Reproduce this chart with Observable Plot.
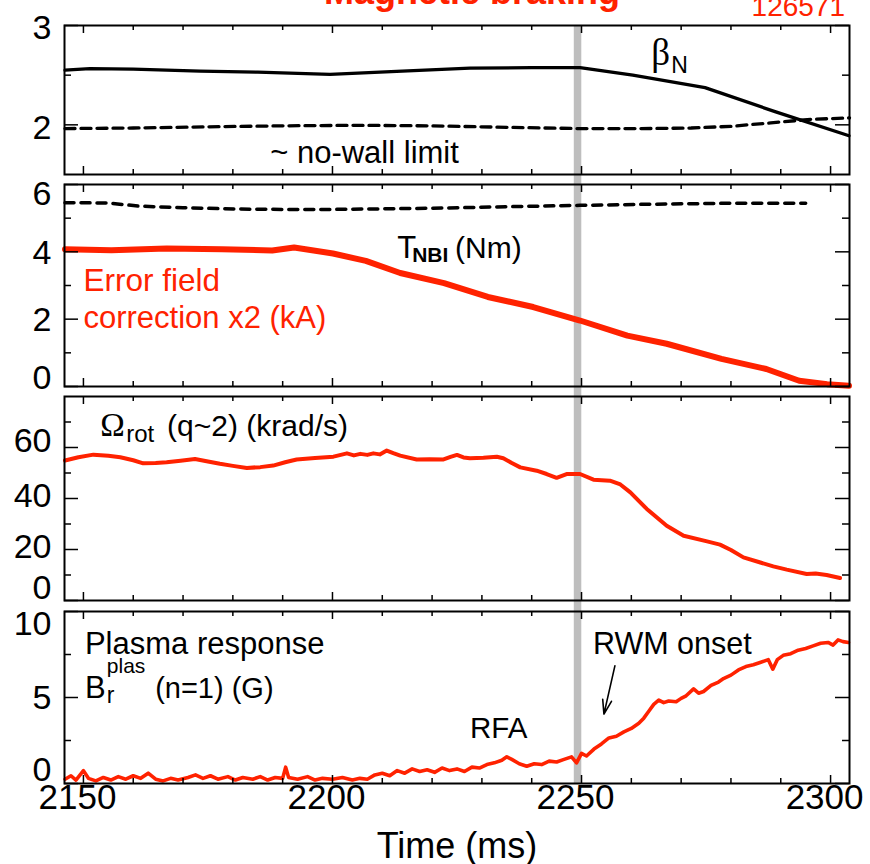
<!DOCTYPE html>
<html><head><meta charset="utf-8">
<script src="https://cdn.jsdelivr.net/npm/d3@7"></script>
<script src="https://cdn.jsdelivr.net/npm/@observablehq/plot@0.6"></script>
<style>
html,body{margin:0;padding:0;background:#fff;}
#chart{width:870px;height:864px;overflow:hidden;position:relative;}
#chart svg{display:block;overflow:visible;}
</style></head><body><div id="chart"></div>
<script>
// ---------------- data ----------------
const onsetTime = 2249.2;
const xMajorTicks = [2150, 2200, 2250, 2300];
const xMinorTicks = [2160, 2170, 2180, 2190, 2210, 2220, 2230, 2240, 2260, 2270, 2280, 2290];

const betaTime = [2146.3, 2151.3, 2160, 2173.4, 2185, 2199.5, 2214, 2227.6, 2240, 2249.7, 2260.3, 2274.8, 2289, 2303.7];
const betaN    = [2.55, 2.565, 2.56, 2.54, 2.53, 2.507, 2.54, 2.57, 2.575, 2.575, 2.50, 2.375, 2.13, 1.89];

const noWallTime = [2146.3, 2160, 2175, 2190, 2205, 2220, 2235, 2249.7, 2262, 2272, 2280, 2288, 2296, 2303.8];
const noWall     = [1.962, 1.968, 1.98, 1.99, 1.995, 1.99, 1.975, 1.962, 1.962, 1.968, 1.985, 2.02, 2.055, 2.07];

const tnbiTime = [2146.3, 2155, 2161, 2170, 2181, 2190, 2200, 2212, 2222, 2235, 2249.7, 2262, 2278, 2287, 2295];
const tnbi     = [5.46, 5.45, 5.36, 5.31, 5.27, 5.26, 5.26, 5.28, 5.30, 5.34, 5.38, 5.41, 5.44, 5.44, 5.44];

const efcTime = [2146.3, 2155.6, 2166.7, 2177.8, 2187.9, 2192.3, 2200.1, 2206.7, 2213.6, 2222.4, 2231.2, 2240.3, 2249.7, 2259.2, 2267.1, 2278.1, 2287.1, 2293.7, 2299.3, 2303.7];
const efc     = [4.08, 4.05, 4.10, 4.08, 4.04, 4.13, 3.95, 3.73, 3.37, 3.07, 2.66, 2.36, 1.96, 1.51, 1.27, 0.82, 0.52, 0.17, 0.07, 0.02];

const rotTime = [2146.3, 2149, 2152, 2155, 2157.4, 2160, 2162, 2164.5, 2166.7, 2169.5, 2172.4, 2175, 2177.4, 2180, 2182.8, 2185.5, 2188.1, 2190.5, 2192.8, 2196.5, 2200.2, 2202.9, 2204.3, 2205.6, 2207, 2208.2, 2209.5, 2210.9, 2212.2, 2213.6, 2216.9, 2219.5, 2222.3, 2223.7, 2225, 2226.3, 2227.6, 2230.3, 2233, 2234.3, 2236, 2237.7, 2241, 2243, 2245, 2247, 2249.7, 2252.4, 2255.7, 2257.8, 2259.8, 2263.1, 2267.1, 2270.5, 2275.2, 2277.8, 2280, 2282.5, 2285.9, 2288.5, 2291.2, 2295.2, 2297, 2299.2, 2301.9];
const rotation = [54.9, 56.2, 57.2, 56.8, 56.2, 55.0, 53.8, 53.9, 54.2, 54.8, 55.5, 54.5, 53.6, 52.8, 52.0, 52.3, 52.9, 54.2, 55.3, 55.9, 56.4, 57.7, 56.9, 57.5, 57.1, 57.7, 57.3, 58.8, 57.8, 56.8, 55.3, 55.4, 55.3, 56.3, 57.1, 56.1, 55.8, 56.0, 56.4, 55.8, 53.9, 52.2, 50.9, 49.6, 48.1, 49.6, 49.6, 47.4, 47.0, 45.5, 42.4, 35.9, 29.3, 25.4, 23.2, 21.9, 19.8, 16.9, 14.9, 13.4, 12.1, 10.4, 10.6, 10.0, 8.8];

const brTime = [2146.3,2147.5,2148.5,2150,2151,2152.5,2154,2155.5,2157,2158.5,2160,2161.5,2163,2164.5,2166,2167.5,2169,2171,2172.5,2174,2175.5,2177,2179,2180.5,2182,2184,2185.5,2187,2188.5,2190,2190.6,2191.2,2193,2195,2196.5,2198,2200,2202,2204,2205.5,2207,2208.5,2210,2211.5,2213,2214.5,2216,2217.5,2219,2220.5,2222,2223.5,2225,2226.5,2228,2229.5,2231,2232.5,2234,2235,2236,2237.5,2239,2240.5,2242,2243.5,2245,2246.5,2248,2249,2250,2251,2252.5,2254,2255.5,2257,2258.5,2260,2261.5,2262.5,2263.5,2264.5,2265.5,2266.5,2267.5,2269,2270,2271,2272.5,2273.5,2274.5,2276,2277.5,2278.5,2280,2281.5,2283,2284.5,2286,2287.5,2288.4,2289.3,2290.5,2292,2293.5,2295,2296.5,2298,2299.5,2300.5,2301.5,2302.5,2303.6];
const brPlas = [0.25,0.45,0.2,0.75,0.3,0.15,0.35,0.2,0.4,0.25,0.45,0.3,0.6,0.25,0.15,0.3,0.2,0.35,0.5,0.3,0.45,0.25,0.4,0.2,0.35,0.25,0.4,0.2,0.35,0.3,0.95,0.35,0.25,0.4,0.2,0.3,0.25,0.35,0.2,0.3,0.25,0.5,0.6,0.45,0.75,0.6,0.85,0.7,0.8,0.65,0.9,0.75,0.85,0.7,0.95,0.9,1.1,1.2,1.35,1.55,1.4,1.15,1.0,1.15,1.1,1.3,1.25,1.4,1.55,1.2,1.75,1.6,2.0,2.3,2.65,2.75,3.0,3.2,3.5,3.8,4.2,4.6,4.85,4.7,4.8,4.75,4.95,5.1,5.5,5.25,5.35,5.7,5.9,6.1,6.3,6.6,6.8,6.9,7.05,7.2,6.65,7.2,7.45,7.55,7.75,7.85,8.0,8.15,8.2,8.05,8.35,8.25,8.2];

// tick values per panel
const p1Major = [2, 3], p1Minor = [2.5];
const p2Major = [0, 2, 4, 6], p2Minor = [1, 3, 5];
const p3Major = [0, 20, 40, 60], p3Minor = [10, 30, 50, 70];
const p4Major = [0, 5, 10], p4Minor = [2.5, 7.5];

// ---------------- styling helpers ----------------
const W = 870, ML = 64, MR = 21, FW = W - ML - MR;
const XD = [2146.2, 2303.8];
const RED = "#ff2200", GRAY = "#bebebe";
const SANS = `"Liberation Sans", Arial, Helvetica, sans-serif`;
const SERIF = `"Liberation Serif", "Times New Roman", serif`;

function hasFont(name) {
  const ctx = document.createElement("canvas").getContext("2d");
  const s = "2150 Time (ms) wWmMiIl";
  ctx.font = "40px monospace"; const a = ctx.measureText(s).width;
  ctx.font = `40px "${name}", monospace`; const b = ctx.measureText(s).width;
  return Math.abs(a - b) > 0.5;
}
const narrow = ["Liberation Sans Narrow", "Arial Narrow"].find(hasFont);
const TICK_FONT = narrow ? `"${narrow}"` : SANS;
const TICK_SIZE = 34;
const CONDENSE = narrow ? 1 : 0.82;

const zip = (t, v) => t.map((d, i) => ({t: d, v: v[i]})).filter(d => d.v !== undefined);

function frameMarks(fh, yMajor, yMinor, bandTop, bandBottom) {
  return {
    band: Plot.ruleX([onsetTime], {x: d => d, stroke: GRAY, strokeWidth: 7.5, insetTop: bandTop, insetBottom: bandBottom}),
    ticks: [
      Plot.tickX(xMajorTicks, {x: d => d, insetBottom: fh - 8, strokeWidth: 1.5}),
      Plot.tickX(xMajorTicks, {x: d => d, insetTop: fh - 8, strokeWidth: 1.5}),
      Plot.tickX(xMinorTicks, {x: d => d, insetBottom: fh - 5, strokeWidth: 1.5}),
      Plot.tickX(xMinorTicks, {x: d => d, insetTop: fh - 5, strokeWidth: 1.5}),
      Plot.tickY(yMajor, {y: d => d, insetRight: FW - 14, strokeWidth: 1.5}),
      Plot.tickY(yMajor, {y: d => d, insetLeft: FW - 14, strokeWidth: 1.5}),
      Plot.tickY(yMinor, {y: d => d, insetRight: FW - 7, strokeWidth: 1.5}),
      Plot.tickY(yMinor, {y: d => d, insetLeft: FW - 7, strokeWidth: 1.5}),
      Plot.frame({stroke: "black", strokeWidth: 2})
    ]
  };
}
function yLabels(vals, dy) {
  return Plot.text(vals, {y: d => d, text: d => String(d), frameAnchor: "left", textAnchor: "end",
    dx: -13, dy, fontSize: TICK_SIZE, fontFamily: TICK_FONT, fill: "black", ariaLabel: "condensed"});
}
function note(t, v, s, opts = {}) {
  return Plot.text([{t, v, s}], {x: "t", y: "v", text: "s", textAnchor: "start", lineAnchor: "bottom",
    fontFamily: SANS, fontSize: 30, fill: "black", ...opts});
}
function panel(height, marginTop, marginBottom, yDomain, marks) {
  return Plot.plot({
    width: W, height, marginLeft: ML, marginRight: MR, marginTop, marginBottom,
    x: {domain: XD, axis: null},
    y: {domain: yDomain, axis: null},
    style: {overflow: "visible", background: "transparent", fontFamily: SANS},
    marks
  });
}

const root = document.getElementById("chart");

// ---------- Panel 1: beta_N ----------
{
  const h = 179, mt = 25, mb = 5, fh = h - mt - mb;
  const f = frameMarks(fh, p1Major, p1Minor, 0, -5);
  root.append(panel(h, mt, mb, [1.5, 3], [
    f.band,
    Plot.line(zip(noWallTime, noWall), {x: "t", y: "v", stroke: "black", strokeWidth: 3.3, strokeDasharray: "10,6"}),
    Plot.line(zip(betaTime, betaN), {x: "t", y: "v", stroke: "black", strokeWidth: 3.3}),
    ...f.ticks,
    yLabels([3], 3), yLabels([2], 3),
    note(2264.0, 2.60, "β", {fontFamily: SERIF, fontSize: 37}),
    note(2268.0, 2.525, "N", {fontSize: 23}),
    note(2187.5, 1.62, "~ no-wall limit", {fontSize: 31}),
    Plot.text(["Magnetic braking"], {x: () => 2228, text: d => d, frameAnchor: "top", dy: -22, lineAnchor: "bottom",
      fontFamily: SANS, fontWeight: "bold", fontSize: 36, fill: RED}),
    Plot.text(["126571"], {x: () => 2302.9, text: d => d, frameAnchor: "top", dy: -10, lineAnchor: "bottom",
      textAnchor: "end", fontFamily: TICK_FONT, fontSize: 28, fill: RED, ariaLabel: "condensed"})
  ]));
}

// ---------- Panel 2: T_NBI and error-field correction ----------
{
  const h = 212, mt = 5, mb = 5, fh = h - mt - mb;
  const f = frameMarks(fh, p2Major, p2Minor, -5, -5);
  root.append(panel(h, mt, mb, [0, 6], [
    f.band,
    Plot.line(zip(tnbiTime, tnbi), {x: "t", y: "v", stroke: "black", strokeWidth: 3.5, strokeDasharray: "9,7"}),
    Plot.line(zip(efcTime, efc), {x: "t", y: "v", stroke: RED, strokeWidth: 6, strokeLinejoin: "round"}),
    ...f.ticks,
    yLabels([6], 10), yLabels([4, 2], 1), yLabels([0], -8),
    note(2213, 3.81, "T", {fontSize: 31}),
    note(2216.0, 3.69, "NBI", {fontSize: 21, fontWeight: "bold"}),
    note(2224.6, 3.81, "(Nm)", {fontSize: 30}),
    note(2150.0, 2.84, "Error field", {fontSize: 31.5, fill: RED}),
    note(2150.0, 1.75, "correction x2 (kA)", {fontSize: 31, fill: RED})
  ]));
}

// ---------- Panel 3: rotation ----------
{
  const h = 214, mt = 5, mb = 5, fh = h - mt - mb;
  const f = frameMarks(fh, p3Major, p3Minor, -5, -5);
  root.append(panel(h, mt, mb, [0, 80], [
    f.band,
    Plot.line(zip(rotTime, rotation), {x: "t", y: "v", stroke: RED, strokeWidth: 4, strokeLinejoin: "round"}),
    ...f.ticks,
    yLabels([60], -6), yLabels([40, 20], -2), yLabels([0], -12),
    note(2153.4, 64.7, "Ω", {fontFamily: SERIF, fontSize: 33}),
    note(2158.6, 62.3, "rot", {fontSize: 24}),
    note(2166.8, 64.7, "(q~2) (krad/s)", {fontSize: 30})
  ]));
}

// ---------- Panel 4: plasma response ----------
{
  const h = 259, mt = 6, mb = 81, fh = h - mt - mb;
  const f = frameMarks(fh, p4Major, p4Minor, -6, 0);
  root.append(panel(h, mt, mb, [0, 10], [
    f.band,
    Plot.line(zip(brTime, brPlas), {x: "t", y: "v", stroke: RED, strokeWidth: 3.6, strokeLinejoin: "round"}),
    ...f.ticks,
    yLabels([10], 13), yLabels([5], 1), yLabels([0], -13),
    note(2150.3, 7.52, "Plasma response", {fontSize: 31}),
    note(2150.3, 4.99, "B", {fontSize: 31}),
    note(2154.7, 6.40, "plas", {fontSize: 21}),
    note(2154.7, 4.69, "r", {fontSize: 23}),
    note(2164.4, 5.0, "(n=1) (G)", {fontSize: 29}),
    note(2252.3, 7.52, "RWM onset", {fontSize: 30.5}),
    note(2227.6, 2.67, "RFA", {fontSize: 29.5}),
    Plot.arrow([{t1: 2256.7, v1: 6.84, t2: 2254.5, v2: 4.03}], {x1: "t1", y1: "v1", x2: "t2", y2: "v2",
      stroke: "black", strokeWidth: 1.6, headLength: 14, headAngle: 35}),
    Plot.text(xMajorTicks, {x: d => d, text: d => String(d), frameAnchor: "bottom", dy: 25, dx: -6,
      fontSize: TICK_SIZE + 1, fontFamily: TICK_FONT, fill: "black", ariaLabel: "condensed"}),
    Plot.text(["Time (ms)"], {text: d => d, frameAnchor: "bottom", dy: 74, lineAnchor: "bottom",
      fontSize: 36, fontFamily: SANS, fill: "black"})
  ]));
}

// narrow (condensed) lettering for the numeric labels, as in the original figure
if (CONDENSE !== 1) {
  root.querySelectorAll('g[aria-label="condensed"] text').forEach(t => {
    const w = t.getComputedTextLength();
    t.setAttribute("textLength", (w * CONDENSE).toFixed(1));
    t.setAttribute("lengthAdjust", "spacingAndGlyphs");
  });
}
</script></body></html>
